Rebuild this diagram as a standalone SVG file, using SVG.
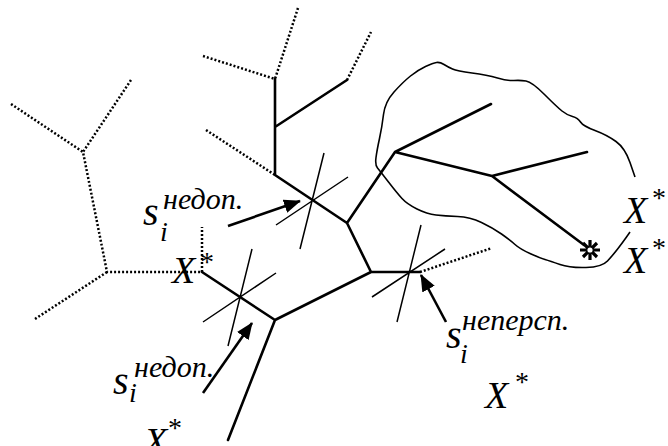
<svg xmlns="http://www.w3.org/2000/svg" width="668" height="446" viewBox="0 0 668 446">
<style>
.dot{fill:none;stroke:#000;stroke-width:2.5;stroke-dasharray:2 2}
.sol{fill:none;stroke:#000;stroke-width:2.6;stroke-linecap:round;stroke-linejoin:round}
.thin{fill:none;stroke:#000;stroke-width:1.5}
.blob{fill:none;stroke:#000;stroke-width:1.6;stroke-linejoin:round}
.arr{fill:none;stroke:#000;stroke-width:2.6}
</style>
<defs>
<marker id="ah" markerWidth="18" markerHeight="14" refX="16" refY="7" orient="auto" markerUnits="userSpaceOnUse">
<path d="M0,0 L17,7 L0,14 z" fill="#000"/>
</marker>
</defs>
<g id="tree-dotted">
<path class="dot" d="M11,104 L83,152 M131,80 L83,152 L107,272 L202,272 M107,272 L35,319 M202,272 L202,227 M298,8 L275,79 M203,56 L275,79 M347,80 L371,32 M206,130 L275,175 M420,272 L492,248"/>
</g>
<g id="tree-solid">
<path class="sol" d="M275,79 L275,175 L347,223 L395,152 L491,104 M275,127 L347,80 M395,152 L492,176 L587,152 M492,176 L584,245 M347,223 L371,272 L420,272 M371,272 L275,320 L202,272 M275,320 L228,440"/>
</g>
<g id="region">
<path class="blob" d="M635,177 L630,162.5 Q625,148 616,141.5 Q607,135 595,130.5 Q583,126 580.5,122 Q578,118 572.5,116.5 Q567,115 562,111 Q557,107 544.5,94.5 Q532,82 526,81 Q520,80 514,80.5 Q508,81 497.5,78 Q487,75 472,73 Q457,71 452.5,69 Q448,67 444,64.5 Q440,62 436.5,62.5 Q433,63 425.5,66.5 Q418,70 410.5,76 Q403,82 394,92 Q385,102 383.5,114.5 Q382,127 379.5,138.5 Q377,150 376,157.5 Q375,165 377.5,168 Q380,171 388.5,182 Q397,193 402,198.5 Q407,204 417,209 Q427,214 436,215 Q445,216 457.5,216.5 Q470,217 481.5,222.5 Q493,228 501.5,234 Q510,240 515,244.5 Q520,249 530,253.5 Q540,258 545,259.5 Q550,261 560,264.5 Q570,268 586,267.5 Q602,267 607.5,261 Q613,255 618,248.5 Q623,242 626.5,237 L630,232"/>
</g>
<g id="cross1"><path class="thin" d="M324,153 L300,249 M348,177 L276,225"/></g>
<g id="cross2"><path class="thin" d="M252,249 L228,346 M276,273 L203,322"/></g>
<g id="cross3"><path class="thin" d="M421,225 L397,322 M445,249 L372,297"/></g>
<g id="star">
<path d="M590,240 L590,260 M580,250 L600,250 M583,243 L597,257 M597,243 L583,257" fill="none" stroke="#000" stroke-width="3.2"/>
<circle cx="590" cy="250" r="3.2" fill="#fff" stroke="#000" stroke-width="1.2"/>
</g>
<g id="connectors">
<line class="arr" x1="228" y1="226" x2="300" y2="201" marker-end="url(#ah)"/>
<line class="arr" x1="203" y1="393" x2="252" y2="323" marker-end="url(#ah)"/>
<line class="arr" x1="446" y1="322" x2="421" y2="275" marker-end="url(#ah)"/>
</g>
<g font-family="Liberation Serif, serif" font-style="italic" fill="#000">
<g id="label-s1">
<text font-size="40" x="143" y="225">s</text>
<text font-size="28" x="160" y="241">i</text>
<text font-size="30" x="163" y="209">недоп.</text>
</g>
<g id="label-s2">
<text font-size="40" x="113" y="394">s</text>
<text font-size="28" x="129" y="402">i</text>
<text font-size="30" x="134" y="377">недоп.</text>
</g>
<g id="label-s3">
<text font-size="40" x="446" y="348">s</text>
<text font-size="28" x="460" y="363">i</text>
<text font-size="30" x="462" y="330">неперсп.</text>
</g>
<g id="label-x1"><text font-size="38" x="624" y="223">X</text><text font-size="28" font-style="normal" x="652" y="207">*</text></g>
<g id="label-x2"><text font-size="38" x="624" y="273">X</text><text font-size="28" font-style="normal" x="652" y="257">*</text></g>
<g id="label-x3"><text font-size="38" x="485" y="408">X</text><text font-size="28" font-style="normal" x="515" y="391">*</text></g>
<g id="label-x4"><text font-size="38" x="172" y="283">X</text><text font-size="28" font-style="normal" x="200" y="271">*</text></g>
<g id="label-x5"><text font-size="38" x="144" y="454">X</text><text font-size="28" font-style="normal" x="168" y="437">*</text></g>
</g>
</svg>
